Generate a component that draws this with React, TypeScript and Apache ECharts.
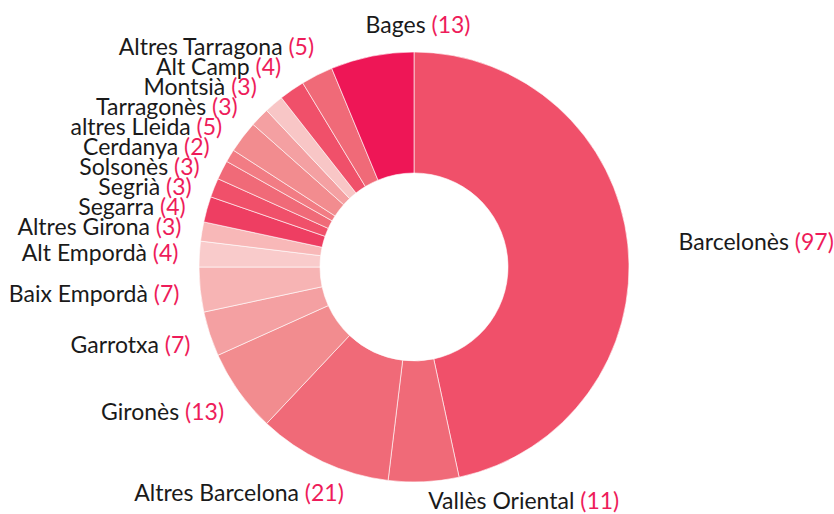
import React, { useEffect, useRef } from "react";
import * as echarts from "echarts";

const categories = [
  "Barcelonès",
  "Vallès Oriental",
  "Altres Barcelona",
  "Gironès",
  "Garrotxa",
  "Baix Empordà",
  "Alt Empordà",
  "Altres Girona",
  "Segarra",
  "Segrià",
  "Solsonès",
  "Cerdanya",
  "altres Lleida",
  "Tarragonès",
  "Montsià",
  "Alt Camp",
  "Altres Tarragona",
  "Bages",
];

const values = [97, 11, 21, 13, 7, 7, 4, 3, 4, 3, 3, 2, 5, 3, 3, 4, 5, 13];

const sliceColors = [
  "#f0506a",
  "#f06a78",
  "#f06a78",
  "#f28c8f",
  "#f4a0a2",
  "#f7b4b4",
  "#f9cbcb",
  "#f8b8b8",
  "#ee3e62",
  "#f0506a",
  "#f06a78",
  "#f27c84",
  "#f28c8f",
  "#f4a0a2",
  "#f8c6c6",
  "#f0506a",
  "#f06a78",
  "#ee1656",
];

const FONT = "Lato, 'Noto Sans', sans-serif";

// chart geometry
const W = 834;
const H = 514;
const CX = 414;
const CY = 267;
const R_IN = 94;
const R_OUT = 215;
const LABEL_R = 248; // radius where labels are anchored
const LABEL_STEP = 20; // minimum vertical distance between stacked labels

type LabelPos = { x: number; y: number; align: "left" | "right" };

// Outside-label layout (same scheme as ECharts' pie label layout:
// anchor on the mid-angle, stack overlapping labels vertically per side,
// then re-align x on an ellipse through the extreme label).
function computeLabelLayout(): LabelPos[] {
  const total = values.reduce((a, b) => a + b, 0);
  const lastIdx = values.length - 1;
  const len2 = (i: number) =>
    i === 0 ? 18 : i === 1 ? 3 : i === 2 ? -35 : i === lastIdx ? 0 : -12;
  let cum = 0;
  const items = values.map((v, i) => {
    const a = ((cum + v / 2) / total) * Math.PI * 2;
    cum += v;
    const dx = Math.sin(a) * LABEL_R;
    const dy = -Math.cos(a) * LABEL_R;
    return { i, dir: dx < 0 ? -1 : 1, dx, y: CY + dy, x: 0 };
  });
  for (const dir of [-1, 1]) {
    const side = items.filter((it) => it.dir === dir).sort((a, b) => a.y - b.y);
    let last = -Infinity;
    for (const it of side) {
      if (it.y < last + LABEL_STEP) it.y = last + LABEL_STEP;
      last = it.y;
    }
    const maxY = H - 14;
    for (let k = side.length - 1; k >= 0; k--) {
      const lim = maxY - (side.length - 1 - k) * LABEL_STEP;
      if (side[k].y > lim) side[k].y = lim;
    }
    for (const top of [true, false]) {
      const semi = side.filter((it) => (it.y <= CY) === top);
      if (!semi.length) continue;
      let ext = semi[0];
      for (const it of semi) if (Math.abs(it.y - CY) >= Math.abs(ext.y - CY)) ext = it;
      const edy = Math.abs(ext.y - CY);
      const rB = Math.abs(ext.dx) < LABEL_R
        ? edy / Math.sqrt(1 - (ext.dx * ext.dx) / (LABEL_R * LABEL_R))
        : LABEL_R;
      for (const it of semi) {
        const dy = Math.abs(it.y - CY);
        const ddx = Math.sqrt(Math.max(0, 1 - (dy * dy) / (rB * rB))) * LABEL_R;
        it.x = CX + (ddx + len2(it.i)) * dir;
      }
    }
  }
  return items.map((it) => ({
    x: it.x,
    y: it.y,
    align: it.i === lastIdx ? "left" : it.dir < 0 ? "right" : "left",
  }));
}

export default function App() {
  const ref = useRef<HTMLDivElement>(null);

  useEffect(() => {
    if (!ref.current) return;
    const chart = echarts.init(ref.current, undefined, { renderer: "svg" });
    const labelPos = computeLabelLayout();
    const data = categories.map((name, i) => ({
      name,
      value: values[i],
      itemStyle: { color: sliceColors[i] },
    }));
    chart.setOption({
      animation: false,
      backgroundColor: "#ffffff",
      series: [
        {
          type: "pie",
          center: [CX, CY],
          radius: [R_IN, R_OUT],
          startAngle: 90,
          clockwise: true,
          avoidLabelOverlap: false,
          silent: true,
          emphasis: { disabled: true },
          itemStyle: { borderColor: "#ffffff", borderWidth: 0.6 },
          label: {
            show: true,
            position: "outside",
            overflow: "none",
            fontSize: 23,
            fontFamily: FONT,
            formatter: "{n|{b} }{v|({c})}",
            rich: {
              n: { color: "#1a1a1a", fontSize: 23, fontFamily: FONT },
              v: { color: "#ee1c5a", fontSize: 23, fontFamily: FONT },
            },
          },
          labelLine: { show: false },
          labelLayout: (params: any) => {
            const p = labelPos[params.dataIndex];
            return { x: p.x, y: p.y, align: p.align, verticalAlign: "middle" };
          },
          data,
        },
      ],
    });
    return () => chart.dispose();
  }, []);

  return (
    <div
      ref={ref}
      style={{ position: "fixed", left: 0, top: 0, width: W, height: H, background: "#fff" }}
    />
  );
}
